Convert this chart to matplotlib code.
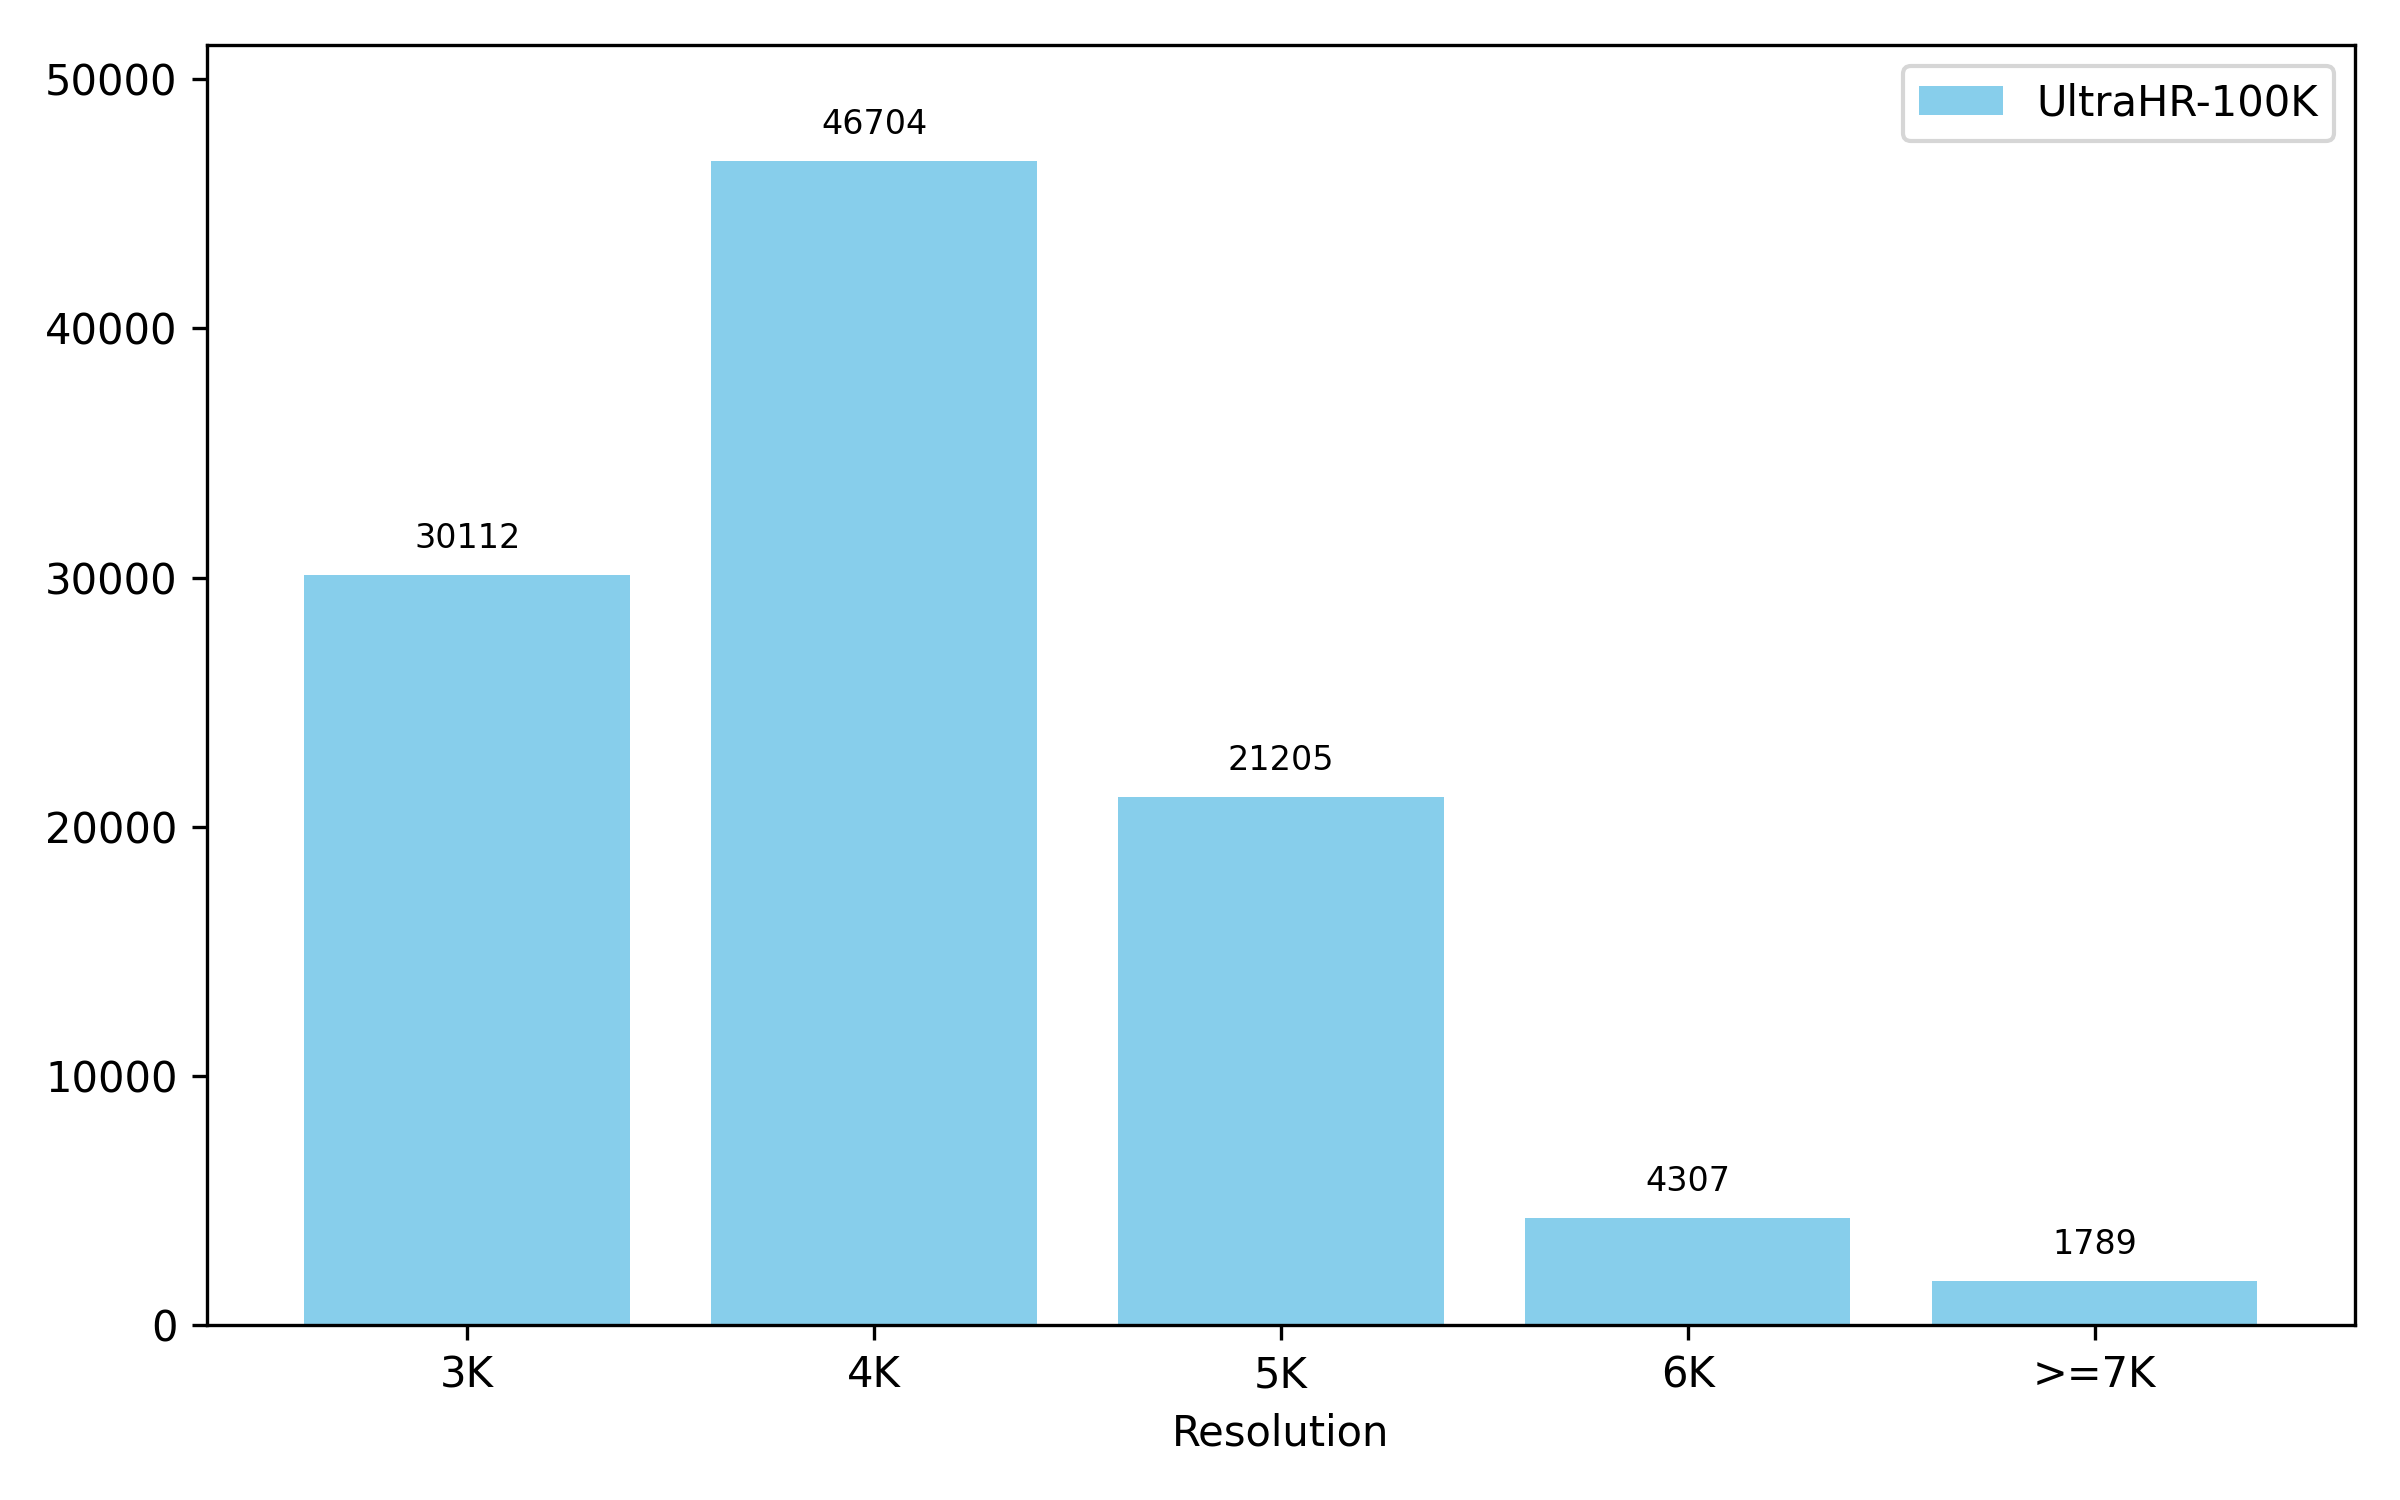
import matplotlib.pyplot as plt

categories = ['3K', '4K', '5K', '6K', '>=7K']
counts = [30112, 46704, 21205, 4307, 1789]

fig, ax = plt.subplots(figsize=(8, 5), dpi=300)
bars = ax.bar(categories, counts, color='skyblue', label='UltraHR-100K')

for bar, v in zip(bars, counts):
    ax.text(bar.get_x() + bar.get_width() / 2, v + 800, str(v),
            ha='center', va='bottom', fontsize=8)

ax.set_ylim(0, max(counts) * 1.1)
ax.set_xlabel('Resolution')
ax.legend(loc='upper right')
plt.tight_layout()
plt.savefig('out.png')
